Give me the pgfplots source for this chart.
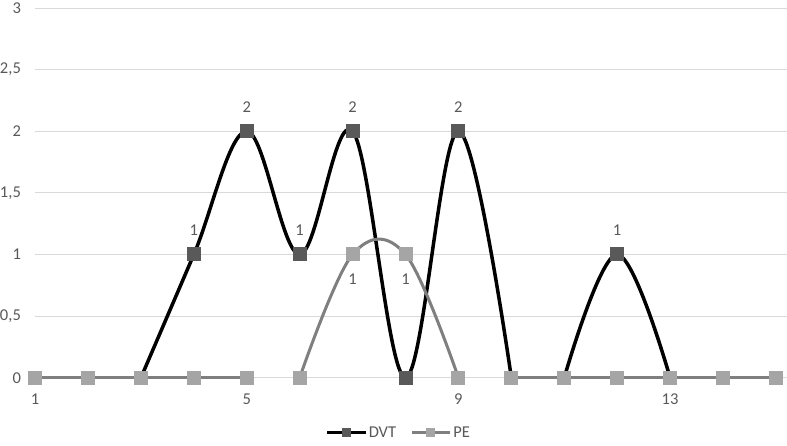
\documentclass[border=0pt]{standalone}
\usepackage{fontspec}
\setmainfont{Carlito}
\usepackage{pgfplots}
\pgfplotsset{compat=1.18}
\definecolor{gridgray}{HTML}{D9D9D9}
\definecolor{txtgray}{HTML}{595959}
\definecolor{dvtmark}{HTML}{595959}
\definecolor{pemark}{HTML}{A5A5A5}
\definecolor{peline}{HTML}{7F7F7F}
\pgfplotsset{
  dvt/.style={black, line width=3.5pt, smooth, tension=0.6, mark=square*, mark size=6.5pt,
    mark options={solid, draw=dvtmark, fill=dvtmark, line width=0pt},
    every node near coord/.append style={yshift=24pt}},
  pe/.style={peline, line width=3pt, smooth, tension=0.6, mark=square*, mark size=6.5pt,
    mark options={solid, draw=pemark, fill=pemark, line width=0pt},
    every node near coord/.append style={yshift=-25pt}},
}
\begin{document}
\begin{tikzpicture}
\begin{axis}[
    scale only axis, width=750pt, height=369pt,
    xmin=1, xmax=15.2, ymin=0, ymax=3,
    xtick={1,5,9,13}, ytick={0,0.5,...,3},
    ymajorgrids, grid style={gridgray, line width=1pt},
    axis x line*=bottom, axis y line*=left,
    x axis line style={gridgray, line width=1pt, -},
    y axis line style={draw=none},
    major tick length=0pt,
    /pgf/number format/use comma,
    /pgf/number format/assume math mode=true,
    tick label style={font=\fontsize{16.5}{19}\selectfont, text=txtgray},
    yticklabel style={inner sep=0pt, anchor=east, xshift=-14pt},
    xticklabel style={inner sep=0pt, anchor=north, yshift=-16pt},
    point meta=explicit symbolic,
    nodes near coords,
    every node near coord/.append style={font=\fontsize{16.5}{19}\selectfont, text=txtgray, anchor=center, inner sep=0pt},
    legend style={at={(0.484,-0.149)}, anchor=center, draw=none, legend columns=-1,
      font=\fontsize{16.5}{19}\selectfont, text=txtgray,
      /tikz/every even column/.append style={column sep=12pt}},
    legend image code/.code={\draw[mark repeat=2, mark phase=2, mark size=3.8pt, line width=3pt] plot coordinates {(0pt,0pt) (19pt,0pt) (38pt,0pt)};},
    clip=false,
]
% DVT, drawn in pieces so that the flat runs at zero stay flat
\addplot[dvt] coordinates {(1,0) [] (2,0) [] (3,0) []};
\addlegendentry{DVT}
\addplot[dvt, forget plot] coordinates {(3,0) [] (4,1) [1] (5,2) [2] (6,1) [1] (7,2) [2] (8,0) [] (9,2) [2] (10,0) []};
\addplot[dvt, forget plot] coordinates {(10,0) [] (11,0) []};
\addplot[dvt, forget plot] coordinates {(11,0) [] (12,1) [1] (13,0) []};
\addplot[dvt, forget plot] coordinates {(13,0) [] (14,0) [] (15,0) []};
% PE (the line has breaks between 5 and 6, and between 9 and 10)
\addplot[pe] coordinates {(1,0) [] (2,0) [] (3,0) [] (4,0) [] (5,0) []};
\addlegendentry{PE}
\addplot[pe, forget plot] coordinates {(6,0) [] (7,1) [1] (8,1) [1] (9,0) []};
\addplot[pe, forget plot] coordinates {(10,0) [] (11,0) [] (12,0) [] (13,0) [] (14,0) [] (15,0) []};
% room above and below, as in the reference
\path (rel axis cs:0,1) ++(0pt,8pt) (rel axis cs:0,0) ++(0pt,-68pt);
\end{axis}
\end{tikzpicture}
\end{document}
